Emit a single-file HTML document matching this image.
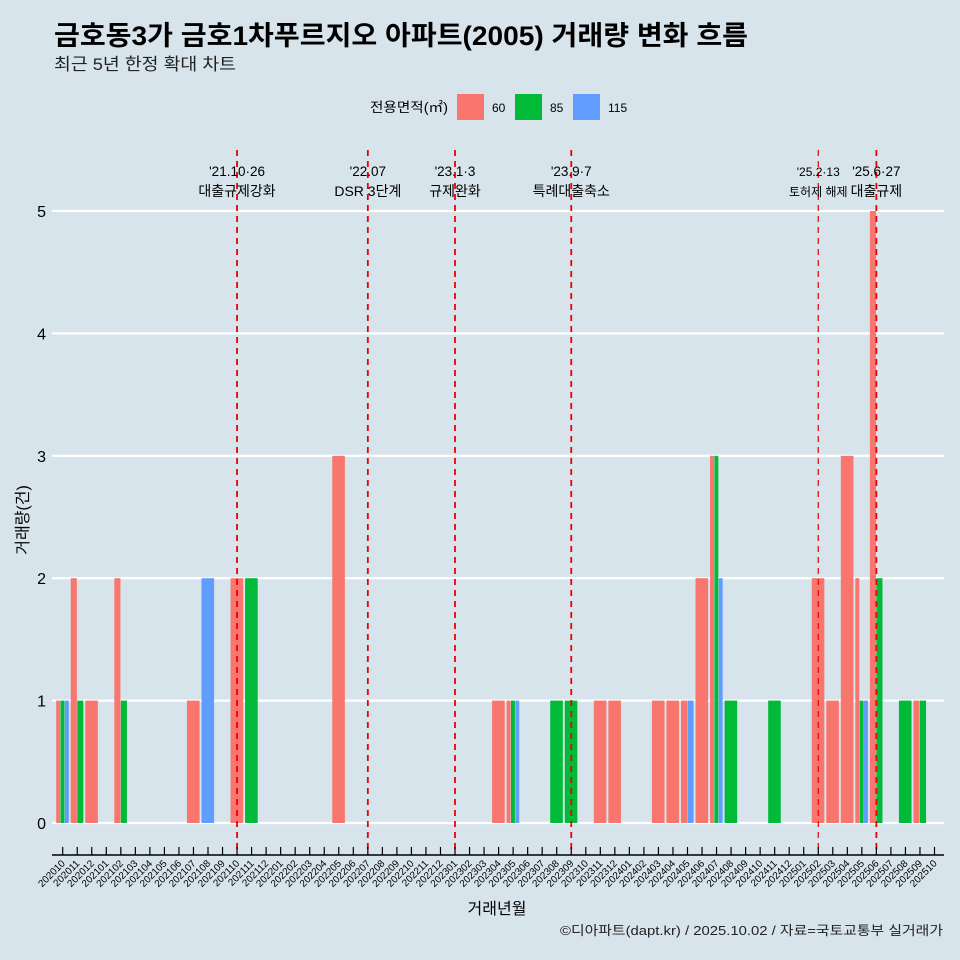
<!DOCTYPE html>
<html><head><meta charset="utf-8"><style>
body{margin:0;background:#d7e4eb;}
svg{display:block;font-family:"Liberation Sans","Noto Sans CJK KR",sans-serif;}
</style></head><body>
<svg id="c" width="960" height="960" viewBox="0 0 960 960">
<rect width="960" height="960" fill="#d7e4eb"/>
<text x="54" y="45" font-size="27" font-weight="bold" fill="#000" textLength="694" lengthAdjust="spacingAndGlyphs">금호동3가 금호1차푸르지오 아파트(2005) 거래량 변화 흐름</text>
<text x="54" y="70" font-size="17" fill="#222" textLength="182" lengthAdjust="spacingAndGlyphs">최근 5년 한정 확대 차트</text>
<g>
<text x="370" y="112" font-size="13.5" textLength="78" lengthAdjust="spacingAndGlyphs">전용면적(㎡)</text>
<rect x="457" y="94" width="27" height="26" fill="#f8766d"/>
<text x="492" y="112" font-size="12">60</text>
<rect x="515" y="94" width="27" height="26" fill="#00ba38"/>
<text x="550" y="112" font-size="12">85</text>
<rect x="573" y="94" width="27" height="26" fill="#619cff"/>
<text x="608" y="112" font-size="12">115</text>
</g>
<g id="grid"></g><g id="bars"></g><g id="vlines"></g><g id="axes"></g>
<text x="28" y="520" font-size="16" text-anchor="middle" transform="rotate(-90 28 520)">거래량(건)</text>
<text x="497" y="914" font-size="16" text-anchor="middle">거래년월</text>
<text x="943" y="935" font-size="13" text-anchor="end" fill="#222" textLength="383" lengthAdjust="spacingAndGlyphs">©디아파트(dapt.kr) / 2025.10.02 / 자료=국토교통부 실거래가</text>
</svg>
<script>
const months=[];for(let y=2020,m=10;months.length<61;){months.push(''+y+(m<10?'0':'')+m);m++;if(m>12){m=1;y++;}}
const sizes=['60','85','115'];
const colors=['#f8766d','#00ba38','#619cff'];
const vol60 ={0:1,1:2,2:1,4:2,9:1,12:2,19:3,30:1,31:1,37:1,38:1,41:1,42:1,43:1,44:2,45:3,52:2,53:1,54:3,55:2,56:5,59:1};
const vol85 ={0:1,1:1,4:1,13:2,31:1,34:1,35:1,45:3,46:1,49:1,55:1,56:2,58:1,59:1};
const vol115={0:1,10:2,31:1,43:1,45:2,55:1};
const yTicks=[0,1,2,3,4,5];
const events=[[12,"'21.10·26","대출규제강화",false],[21,"'22.07","DSR 3단계",false],[27,"'23.1·3","규제완화",false],[35,"'23.9·7","특례대출축소",false],[52,"'25.2·13","토허제 해제",true],[56,"'25.6·27","대출규제",false]];
const NS='http://www.w3.org/2000/svg';
const X=i=>62.7+i*14.53, Y=v=>823-v*122.4, L=52, R=944;
function mk(t,a,p){const e=document.createElementNS(NS,t);for(const k in a)e.setAttribute(k,a[k]);document.getElementById(p).appendChild(e);return e;}
yTicks.forEach(v=>{
 const g=mk('line',{x1:L,x2:R,y1:Y(v),y2:Y(v),stroke:'#fff','stroke-width':2.2},'grid');
 
 
 const t=mk('text',{x:46,y:Y(v)+6,'font-size':16,'text-anchor':'end'},'axes');t.textContent=v;
 
 
});
const series=[vol60,vol85,vol115];
months.forEach((m,i)=>{
 const present=[];series.forEach((s,k)=>{if(s[i])present.push(k);});
 if(!present.length)return;
 const w=13/present.length, x0=X(i)-6.5;
 present.forEach((k,j)=>{
  const v=series[k][i];
  const r=mk('rect',{x:x0+j*w,y:Y(v),width:w-0.4,height:Y(0)-Y(v),fill:colors[k]},'bars');
  
  
 });
});
events.forEach(e=>{
 const x=X(e[0]);
 const l=mk('line',{x1:x,x2:x,y1:150,y2:855,stroke:'#ee0000','stroke-width':e[3]?1.2:1.8,'stroke-dasharray':'6 5'},'vlines');
 
 
 const t1=mk('text',{x:x,y:176,'font-size':e[3]?12:13.5,'text-anchor':'middle'},'vlines');t1.textContent=e[1];
 
 
 const t2=mk('text',{x:x,y:196,'font-size':e[3]?12:14,'text-anchor':'middle'},'vlines');t2.textContent=e[2];
 
 
});
const ax=mk('line',{x1:L,x2:R,y1:855,y2:855,stroke:'#000','stroke-width':1.5},'axes');


months.forEach((m,i)=>{
 const x=X(i);
 const tk=mk('line',{x1:x,x2:x,y1:847,y2:855,stroke:'#000','stroke-width':1.2},'axes');
 
 
 const t=mk('text',{x:x+3,y:864,'font-size':10,'text-anchor':'end',transform:`rotate(-45 ${x+3} 864)`},'axes');t.textContent=m;
 
 
});
</script>
</body></html>
